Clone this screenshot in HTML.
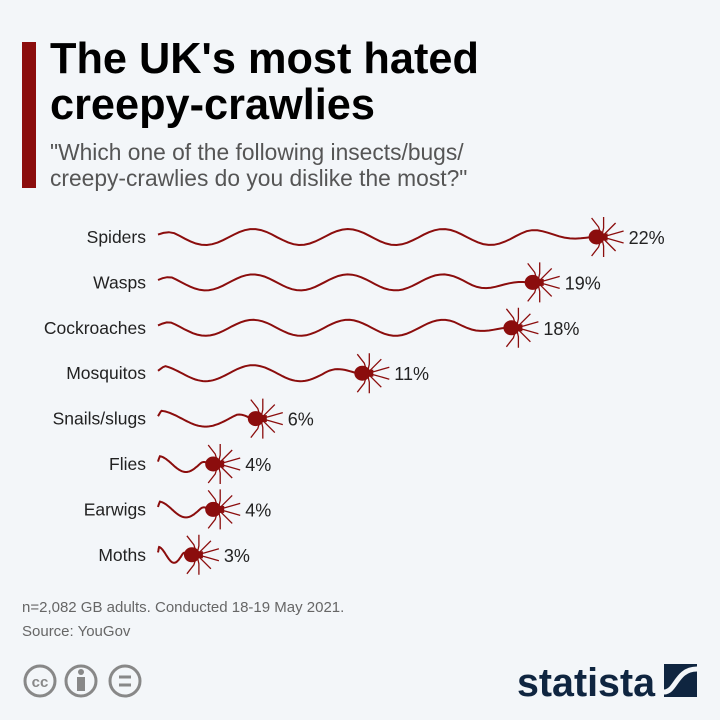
<!DOCTYPE html>
<html><head><meta charset="utf-8"><style>
body{margin:0;width:720px;height:720px;background:#f3f6f9;font-family:"Liberation Sans",sans-serif;overflow:hidden;position:relative}
.t{position:absolute;left:50px;top:36px;font-size:43.3px;font-weight:bold;line-height:46px;color:#000;margin:0}
.bar{position:absolute;left:22px;top:42px;width:14px;height:146px;background:#8b0d0d}
.sub{position:absolute;left:50px;top:139px;font-size:22.8px;line-height:26px;color:#555}
.note{position:absolute;left:22px;top:596px;font-size:15px;line-height:24px;color:#666}
</style></head><body>
<div class="bar"></div>
<h1 class="t">The UK's most hated<br>creepy-crawlies</h1>
<div class="sub">"Which one of the following insects/bugs/<br>creepy-crawlies do you dislike the most?"</div>
<svg id="chart" width="720" height="720" style="position:absolute;left:0;top:0"></svg>
<div class="note">n=2,082 GB adults. Conducted 18-19 May 2021.<br>Source: YouGov</div>
<svg width="720" height="720" style="position:absolute;left:0;top:0;pointer-events:none">
<g fill="none" stroke="#888" stroke-width="3">
<circle cx="40" cy="681" r="15"/><circle cx="81" cy="681" r="15"/><circle cx="125" cy="681" r="15"/>
<text x="40" y="687" text-anchor="middle" font-size="15" font-weight="bold" fill="#888" stroke="none" font-family="Liberation Sans">cc</text>
<circle cx="81" cy="672" r="3" fill="#888" stroke="none"/><rect x="77" y="677" width="8" height="14" fill="#888" stroke="none"/>
<line x1="119" y1="677" x2="131" y2="677"/><line x1="119" y1="685" x2="131" y2="685"/>
</g>
<g>
<text x="517" y="696" font-size="40" font-weight="bold" fill="#0f2540" font-family="Liberation Sans" textLength="138" lengthAdjust="spacingAndGlyphs">statista</text>
<rect x="664" y="664" width="33" height="33" fill="#0f2540"/>
<path d="M664 692 C676 692 676 669 697 669" stroke="#f3f6f9" stroke-width="5" fill="none"/>
</g>
</svg>
<script>
const categories=["Spiders","Wasps","Cockroaches","Mosquitos","Snails/slugs","Flies","Earwigs","Moths"];
const values=[22,19,18,11,6,4,4,3];
const valueLabels=["22%","19%","18%","11%","6%","4%","4%","3%"];
const svg=document.getElementById('chart');
const NS='http://www.w3.org/2000/svg';
function xScale(v){return 131+21.3*v;}
function yScale(i){return 237+45.4*i;}
const x0=158,red='#8b0d0d';
function mk(t,a){const e=document.createElementNS(NS,t);for(const k in a)e.setAttribute(k,a[k]);svg.appendChild(e);return e;}
categories.forEach((c,i)=>{
 const y=yScale(i),xe=xScale(values[i])-8;
 const lab=mk('text',{x:146,y:y+6,'text-anchor':'end','font-size':17.5,fill:'#222','font-family':'Liberation Sans'});
 lab.textContent=c;
 
 
 const L=xe-x0,n=Math.max(0.9,L/95);let d='';
 for(let k=0;k<=80;k++){const t=k/80;const px=x0+L*t;let w=-Math.cos(t*n*2*Math.PI);const f=(t>0.85?(1-t)/0.15:1)*Math.min(1,t/0.05+0.3);const py=y+8*w*f;d+=(k?' L':'M')+px.toFixed(1)+' '+py.toFixed(1);}
 const p=mk('path',{d:d,fill:'none',stroke:red,'stroke-width':2});
 
 
 const cx=xScale(values[i]),g=document.createElementNS(NS,'g');svg.appendChild(g);
 
 
 [[-10,-19,-3,-10],[2,-20,2,-9],[14,-14,6,-6],[22,-6,8,-2],[22,6,8,2],[14,14,6,6],[2,20,2,9],[-10,19,-3,10]].forEach(l=>{
  const ln=document.createElementNS(NS,'polyline');ln.setAttribute('points',(cx+2)+','+y+' '+(cx+l[2]+2)+','+(y+l[3])+' '+(cx+l[0]+2)+','+(y+l[1]));
  ln.setAttribute('fill','none');ln.setAttribute('stroke',red);ln.setAttribute('stroke-width',1.3);g.appendChild(ln);});
 const b=document.createElementNS(NS,'ellipse');b.setAttribute('cx',cx-3);b.setAttribute('cy',y);b.setAttribute('rx',8);b.setAttribute('ry',7.5);b.setAttribute('fill',red);g.appendChild(b);
 const h=document.createElementNS(NS,'rect');h.setAttribute('x',cx+4);h.setAttribute('y',y-3.5);h.setAttribute('width',4);h.setAttribute('height',7);h.setAttribute('fill',red);g.appendChild(h);
 const v=mk('text',{x:cx+29,y:y+7,'font-size':18,fill:'#222','font-family':'Liberation Sans'});
 v.textContent=valueLabels[i];
 
 
});
</script>
</body></html>
